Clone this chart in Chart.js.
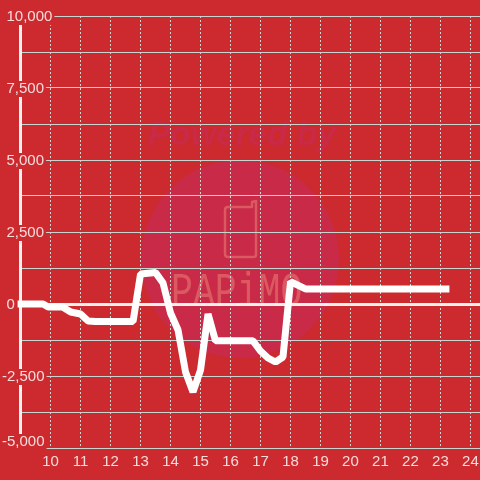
<!DOCTYPE html>
<html>
<head>
<meta charset="utf-8">
<style>
  html, body { margin: 0; padding: 0; background: #cc2a2e; }
  canvas { display: block; }
</style>
<script src="https://cdn.jsdelivr.net/npm/chart.js@4/dist/chart.umd.min.js"></script>
</head>
<body>
<canvas id="chart" width="480" height="480"></canvas>
<script>
// hours of the day and the value read at each
const hours = [8.9, 9.75, 9.92, 10.4, 10.67, 11, 11.25, 11.5, 12.75, 13, 13.5, 13.75, 14, 14.25, 14.5, 14.75, 15, 15.25, 15.5, 16.75, 17, 17.25, 17.5, 17.75, 18, 18.5, 23.3];
const values = [0, 0, -104, -104, -278, -347, -590, -608, -608, 1042, 1094, 729, -312, -903, -2361, -3055, -2292, -347, -1280, -1280, -1632, -1875, -2014, -1840, 780, 525, 525];
const xTickValues = [10, 11, 12, 13, 14, 15, 16, 17, 18, 19, 20, 21, 22, 23, 24];
const yTickValues = [10000, 7500, 5000, 2500, 0, -2500, -5000];

const bgColor = "#cc2a2e";
const labelColor = "#f6dcdc";
const labelFont = '15px "Liberation Sans"';
const gridColor = "#c6d6d0";

// background + watermark sit under the grid
const watermark = {
    id: "watermark",
    beforeDraw(chart) {
        const ctx = chart.ctx;
        ctx.save();
        ctx.fillStyle = bgColor;
        ctx.fillRect(0, 0, 480, 480);

        ctx.fillStyle = "#c92a48";
        ctx.beginPath();
        ctx.arc(240, 259, 99, 0, Math.PI * 2);
        ctx.fill();

        ctx.font = 'italic bold 33px "Liberation Sans"';
        ctx.letterSpacing = "0.3px";
        ctx.fillText("Powered by", 148, 145);
        ctx.letterSpacing = "0px";

        // phone outline
        ctx.strokeStyle = "#db5a62";
        ctx.lineWidth = 2.5;
        ctx.lineJoin = "round";
        ctx.beginPath();
        ctx.moveTo(252, 207);
        ctx.lineTo(252, 202);
        ctx.lineTo(256, 201);
        ctx.lineTo(256, 255);
        ctx.quadraticCurveTo(256, 257, 253, 257);
        ctx.lineTo(228, 257);
        ctx.quadraticCurveTo(225, 257, 225, 254);
        ctx.lineTo(225, 210);
        ctx.quadraticCurveTo(225, 207, 228, 207);
        ctx.closePath();
        ctx.stroke();

        ctx.fillStyle = "#db5a62";
        ctx.font = '48px "Liberation Mono"';
        ctx.translate(171, 306);
        ctx.scale(0.76, 1);
        ctx.fillText("PAPiMO", 0, 0);
        ctx.restore();
    }
};

// y labels sit on the axis with a backdrop, digits start at the same x
const yLabels = {
    id: "yLabels",
    afterDatasetsDraw(chart) {
        const ctx = chart.ctx;
        const scale = chart.scales.y;
        ctx.save();
        ctx.font = labelFont;
        ctx.textBaseline = "middle";
        yTickValues.forEach(v => {
            const text = v.toLocaleString("en-US");
            const left = v < 0 ? 2 : 6.5;
            let y = scale.getPixelForValue(v) + 1;
            if (v === -5000) y -= 7;
            const w = ctx.measureText(text).width;
            ctx.fillStyle = bgColor;
            if (v !== 0) ctx.fillRect(left - 2, y - 8, w + 4, 16);
            ctx.fillStyle = labelColor;
            ctx.fillText(text, left, y);
        });
        ctx.restore();
    }
};

new Chart(document.getElementById("chart"), {
    type: "line",
    data: {
        datasets: [{
            data: hours.map((h, i) => ({ x: h, y: values[i] })),
            borderColor: "#ffffff",
            borderWidth: 7,
            borderJoinStyle: "bevel",
            pointRadius: 0,
            tension: 0,
            clip: false
        }]
    },
    plugins: [watermark, yLabels],
    options: {
        responsive: false,
        animation: false,
        layout: { padding: { top: 16, left: 0, right: 0, bottom: 0 } },
        plugins: { legend: { display: false }, tooltip: { enabled: false } },
        scales: {
            x: {
                type: "linear",
                min: 8.98,
                max: 24.32,
                afterBuildTicks: axis => { axis.ticks = xTickValues.map(v => ({ value: v })); },
                afterFit: axis => {
                    axis.height = 32;
                    axis.paddingLeft = 0;
                    axis.paddingRight = 0;
                },
                grid: { color: gridColor, lineWidth: 1, drawTicks: false, tickLength: 0 },
                border: { dash: [2, 2], display: false },
                ticks: {
                    color: labelColor,
                    font: { family: "Liberation Sans", size: 15 },
                    maxRotation: 0,
                    padding: 5,
                    autoSkip: false
                }
            },
            y: {
                min: -5000,
                max: 10000,
                afterBuildTicks: axis => {
                    const t = [];
                    for (let i = 0; i < yTickValues.length; i++) {
                        t.push({ value: yTickValues[i] });
                        if (i < yTickValues.length - 1) t.push({ value: yTickValues[i] - 1250 });
                    }
                    axis.ticks = t;
                },
                afterFit: axis => { axis.width = 20; },
                grid: {
                    color: ctx => ctx.tick && ctx.tick.value === 0 ? "#f0f0ec" : gridColor,
                    lineWidth: ctx => ctx.tick && ctx.tick.value === 0 ? 3 : 1,
                    drawTicks: false
                },
                border: { color: "#f2f2f2", width: 3 },
                ticks: { display: false }
            }
        }
    }
});
</script>
</body>
</html>
